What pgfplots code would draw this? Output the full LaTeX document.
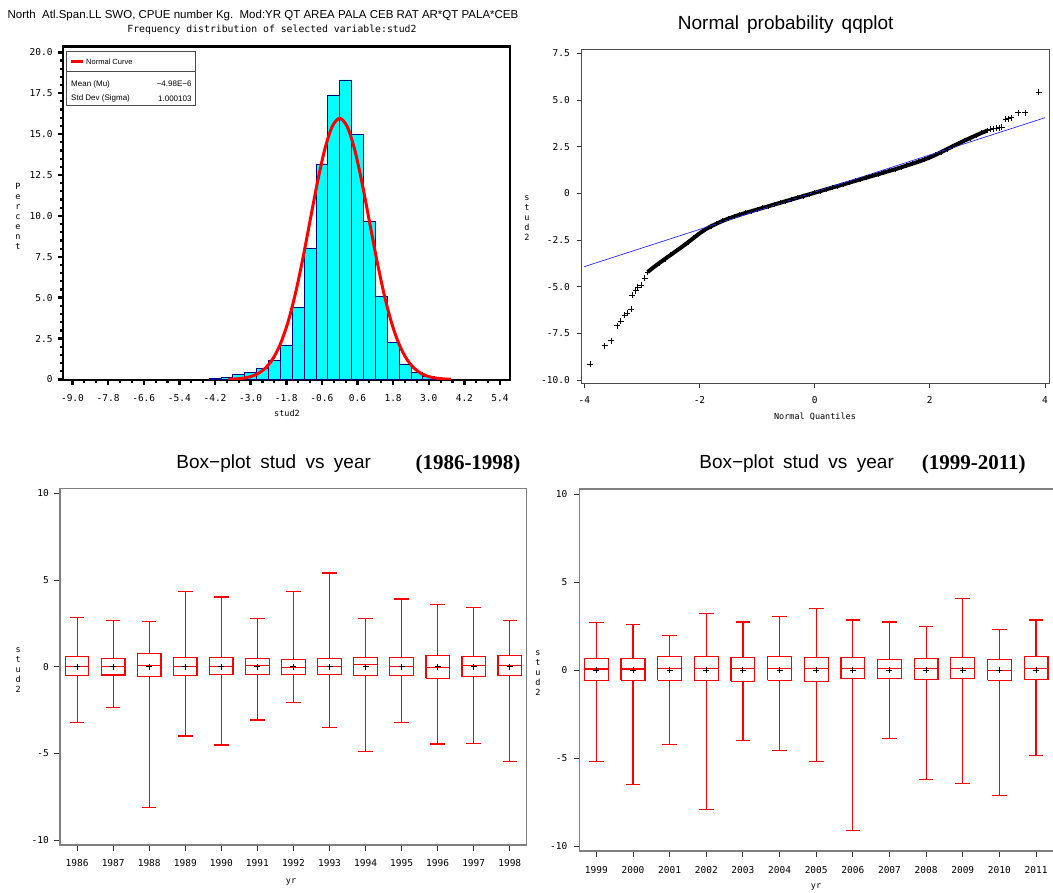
\documentclass[border=0pt]{standalone}
\usepackage{fontspec}
\setmainfont{Liberation Sans}
\newfontfamily\mono{DejaVu Sans Mono}
\newfontfamily\timesf{Liberation Serif}
\usepackage{pgfplots}
\pgfplotsset{compat=1.18}

\definecolor{sascyan}{RGB}{0,255,255}
\definecolor{sasnavy}{RGB}{0,0,128}
\definecolor{sasred}{RGB}{255,0,0}
\definecolor{sasblue}{RGB}{40,40,255}
\definecolor{framegray}{RGB}{128,128,128}

\newcommand\tickfont{\mono\fontsize{9.5}{10}\selectfont}
\newcommand\labfont{\mono\fontsize{8.5}{10}\selectfont}

% one box: #1 position, #2 median, #3 upper quartile, #4 lower quartile,
% #5 upper whisker, #6 lower whisker
\newcommand\boxyear[6]{%
  \addplot[sasred, line width=1.2pt, unbounded coords=jump,
    x filter/.expression={x+#1}] coordinates {
    (-0.325,#4)(0.325,#4)(0.325,#3)(-0.325,#3)(-0.325,#4)
    (0,nan)(-0.325,#2)(0.325,#2)
    (0,nan)(0,#3)(0,#5)
    (0,nan)(-0.2,#5)(0.2,#5)
    (0,nan)(0,#4)(0,#6)
    (0,nan)(-0.2,#6)(0.2,#6)};}

\pgfplotsset{
  boxaxis/.style={scale only axis, anchor=north west,
    tick pos=left, tick align=outside, major tick length=6pt,
    axis line style={framegray, line width=1.5pt},
    major tick style={black!80, line width=0.9pt},
    tick label style={font=\tickfont},
    xtick={0,1,...,12},
    ytick={-10,-5,0,5,10}, yticklabels={-10,-5,0,5,10},
    scaled ticks=false},
}

\begin{document}
\begin{tikzpicture}
\useasboundingbox (0pt,0pt) rectangle (1053pt,893pt);

% ---------- top left: histogram ----------
\node[font=\fontsize{11.5}{12}\selectfont] at (263pt,877.5pt)
  {North\ \ Atl.Span.LL SWO, CPUE number Kg.\ \ Mod:YR QT AREA PALA CEB RAT AR*QT PALA*CEB};
\node[font=\mono\fontsize{9.8}{10}\selectfont] at (272pt,863.7pt)
  {Frequency distribution of selected variable:stud2};

\begin{axis}[at={(63pt,846.3pt)}, anchor=north west, scale only axis,
  width=447pt, height=333.3pt,
  xmin=-9.32, xmax=5.737, ymin=-0.03, ymax=20.342,
  xtick={-9,-7.8,-6.6,-5.4,-4.2,-3,-1.8,-0.6,0.6,1.8,3,4.2,5.4},
  xticklabels={-9.0,-7.8,-6.6,-5.4,-4.2,-3.0,-1.8,-0.6,0.6,1.8,3.0,4.2,5.4},
  minor x tick num=2,
  ytick={0,2.5,5,7.5,10,12.5,15,17.5,20},
  yticklabels={0,2.5,5.0,7.5,10.0,12.5,15.0,17.5,20.0},
  minor y tick num=4,
  tick pos=left, tick align=outside,
  major tick length=5pt, minor tick length=3pt,
  major tick style={black, line width=2.5pt},
  minor tick style={black, line width=2.2pt},
  axis line style={black, line width=2.7pt},
  tick label style={font=\tickfont},
  yticklabel style={anchor=east, inner sep=0pt, xshift=-5.3pt},
  xticklabel style={anchor=center, inner sep=0pt, yshift=-13.3pt},
]
\addplot[ybar interval, fill=sascyan, draw=sasnavy, line width=0.8pt]
coordinates {
  (-4.4,0.05)(-4.0,0.13)(-3.6,0.31)(-3.2,0.42)(-2.8,0.68)(-2.4,1.19)
  (-2.0,2.11)(-1.6,4.41)(-1.2,8.02)(-0.8,13.17)(-0.4,17.39)(0.0,18.31)
  (0.4,14.99)(0.8,9.67)(1.2,5.10)(1.6,2.29)(2.0,0.95)(2.4,0.42)
  (2.8,0.20)(3.2,0.05)(3.6,0)
};
\addplot[sasred, line width=3pt, smooth] coordinates {
  (-3.75,0.014)(-3.5,0.035)(-3.25,0.081)(-3.0,0.177)(-2.75,0.364)
  (-2.5,0.701)(-2.25,1.270)(-2.0,2.160)(-1.75,3.451)(-1.5,5.181)
  (-1.25,7.306)(-1.0,9.679)(-0.75,12.045)(-0.5,14.083)(-0.25,15.467)
  (0,15.958)(0.25,15.467)(0.5,14.083)(0.75,12.045)(1.0,9.679)
  (1.25,7.306)(1.5,5.181)(1.75,3.451)(2.0,2.160)(2.25,1.270)
  (2.5,0.701)(2.75,0.364)(3.0,0.177)(3.25,0.081)(3.5,0.035)(3.75,0.014)
};
\end{axis}

% legend box of the histogram
\draw[black!70, line width=0.9pt, fill=white] (66.7pt,841.3pt) rectangle (195.7pt,787.3pt);
\draw[black!70, line width=0.9pt] (66.7pt,821.3pt) -- (195.7pt,821.3pt);
\draw[sasred, line width=2.5pt] (71pt,831.3pt) -- (83.3pt,831.3pt);
\node[anchor=west, inner sep=0pt, font=\fontsize{7.5}{8}\selectfont] at (86pt,831.3pt) {Normal Curve};
\node[anchor=west, inner sep=0pt, font=\fontsize{8}{9}\selectfont] at (71pt,809pt) {Mean (Mu)};
\node[anchor=east, inner sep=0pt, font=\fontsize{8}{9}\selectfont] at (191.7pt,809pt) {−4.98E−6};
\node[anchor=west, inner sep=0pt, font=\fontsize{8}{9}\selectfont] at (71pt,794.7pt) {Std Dev (Sigma)};
\node[anchor=east, inner sep=0pt, font=\fontsize{8}{9}\selectfont] at (191.7pt,794.7pt) {1.000103};

\node[align=center, inner sep=0pt, font=\labfont] at (18pt,677pt) {P\\e\\r\\c\\e\\n\\t};
\node[inner sep=0pt, font=\labfont] at (287pt,480pt) {stud2};

% ---------- top right: qq plot ----------
\node[font=\fontsize{19}{20}\selectfont] at (785.7pt,868pt)
  {Normal\hspace{8pt}probability\hspace{8pt}qqplot};

\begin{axis}[at={(581pt,843.7pt)}, anchor=north west, scale only axis,
  width=468pt, height=334pt,
  xmin=-4.057, xmax=4.069, ymin=-10.177, ymax=7.714,
  xtick={-4,-2,0,2,4}, xticklabels={-4,-2,0,2,4},
  ytick={-10,-7.5,-5,-2.5,0,2.5,5,7.5},
  yticklabels={-10.0,-7.5,-5.0,-2.5,0,2.5,5.0,7.5},
  tick pos=left, tick align=outside, major tick length=4.5pt,
  axis line style={black!70, line width=1pt},
  major tick style={black!80, line width=0.9pt},
  tick label style={font=\tickfont},
  yticklabel style={anchor=east, inner sep=0pt, xshift=-6.5pt},
  xticklabel style={anchor=center, inner sep=0pt, yshift=-12.2pt},
]
\addplot[black, line width=4pt, mark=+, mark size=2.5pt,
  mark options={line width=0.8pt}] coordinates {
  (-2.9,-4.22)(-2.8,-3.97)(-2.7,-3.74)(-2.6,-3.52)(-2.5,-3.30)(-2.4,-3.08)
  (-2.3,-2.86)(-2.2,-2.63)(-2.1,-2.39)(-2.0,-2.15)(-1.9,-1.94)(-1.8,-1.77)
  (-1.7,-1.62)(-1.6,-1.48)(-1.5,-1.36)(-1.4,-1.25)(-1.3,-1.15)(-1.2,-1.05)
  (-1.1,-0.96)(-1.0,-0.87)(-0.9,-0.78)(-0.8,-0.69)(-0.7,-0.60)(-0.6,-0.51)
  (-0.5,-0.42)(-0.4,-0.33)(-0.3,-0.24)(-0.2,-0.15)(-0.1,-0.06)(0.0,0.03)
  (0.1,0.12)(0.2,0.21)(0.3,0.30)(0.4,0.39)(0.5,0.48)(0.6,0.57)
  (0.7,0.66)(0.8,0.75)(0.9,0.84)(1.0,0.93)(1.1,1.02)(1.2,1.11)
  (1.3,1.20)(1.4,1.29)(1.5,1.39)(1.6,1.49)(1.7,1.59)(1.8,1.69)
  (1.9,1.80)(2.0,1.92)(2.1,2.06)(2.2,2.21)(2.3,2.37)(2.4,2.52)
  (2.5,2.67)(2.6,2.82)(2.7,2.96)(2.8,3.10)(2.9,3.24)(3.0,3.36)
};
\addplot[only marks, black, mark=+, mark size=3pt, mark options={line width=0.8pt}]
coordinates {
  (-3.895,-9.14)(-3.646,-8.16)(-3.53,-7.89)(-3.43,-7.09)(-3.37,-6.84)
  (-3.30,-6.52)(-3.26,-6.43)(-3.19,-6.20)(-3.17,-5.45)(-3.11,-5.21)
  (-3.07,-5.04)(-3.01,-4.91)(-2.95,-4.55)
  (3.05,3.42)(3.1,3.45)(3.15,3.48)(3.2,3.52)(3.25,3.55)
  (3.32,3.98)(3.36,4.00)(3.41,4.05)(3.53,4.32)(3.66,4.32)(3.89,5.41)
};
\addplot[sasblue, line width=0.7pt] coordinates {(-4,-3.93)(4,4.05)};
\end{axis}

\node[align=center, inner sep=0pt, font=\labfont] at (527pt,675pt) {s\\t\\u\\d\\2};
\node[inner sep=0pt, font=\labfont] at (815pt,476.3pt) {Normal Quantiles};

% ---------- bottom left: box-plots 1986-1998 ----------
\node[font=\fontsize{19}{20}\selectfont] at (273.7pt,429pt)
  {Box−plot\hspace{9.4pt}stud\hspace{9.4pt}vs\hspace{9.4pt}year};
\node[font=\timesf\bfseries\fontsize{21}{22}\selectfont] at (468pt,429pt) {(1986-1998)};

\begin{axis}[boxaxis, at={(60.2pt,404.7pt)}, width=466.5pt, height=356.7pt,
  xmin=-0.47, xmax=12.47, ymin=-10.288, ymax=10.288,
  xticklabels={1986,1987,1988,1989,1990,1991,1992,1993,1994,1995,1996,1997,1998},
  yticklabel style={anchor=east, inner sep=0pt, xshift=-5.2pt},
  xticklabel style={anchor=center, inner sep=0pt, yshift=-11.7pt},
]
\boxyear{0}{0}{0.58}{-0.52}{2.83}{-3.21}
\boxyear{1}{0}{0.48}{-0.48}{2.67}{-2.35}
\boxyear{2}{0.06}{0.77}{-0.58}{2.62}{-8.12}
\boxyear{3}{0}{0.54}{-0.52}{4.33}{-4.00}
\boxyear{4}{0}{0.54}{-0.46}{4.02}{-4.52}
\boxyear{5}{0.06}{0.48}{-0.46}{2.77}{-3.08}
\boxyear{6}{-0.04}{0.42}{-0.46}{4.33}{-2.08}
\boxyear{7}{0}{0.48}{-0.46}{5.40}{-3.50}
\boxyear{8}{0.12}{0.54}{-0.52}{2.77}{-4.90}
\boxyear{9}{0}{0.54}{-0.52}{3.90}{-3.21}
\boxyear{10}{-0.06}{0.63}{-0.67}{3.60}{-4.46}
\boxyear{11}{0.06}{0.58}{-0.58}{3.40}{-4.42}
\boxyear{12}{0.06}{0.63}{-0.52}{2.67}{-5.48}
\addplot[only marks, black, mark=+, mark size=3pt, mark options={black, line width=1pt}]
coordinates {(0,0)(1,0)(2,0)(3,0)(4,0)(5,0)(6,0)(7,0)(8,0)(9,0)(10,0)(11,0)(12,0)};
\end{axis}

\node[align=center, inner sep=0pt, font=\labfont] at (18.3pt,223pt) {s\\t\\u\\d\\2};
\node[inner sep=0pt, font=\labfont] at (291pt,11.3pt) {yr};

% ---------- bottom right: box-plots 1999-2011 ----------
\node[font=\fontsize{19}{20}\selectfont] at (796.6pt,429pt)
  {Box−plot\hspace{9.4pt}stud\hspace{9.4pt}vs\hspace{9.4pt}year};
\node[font=\timesf\bfseries\fontsize{21}{22}\selectfont] at (973.7pt,429pt) {(1999-2011)};

\begin{axis}[boxaxis, at={(579.5pt,404pt)}, width=480pt, height=362pt,
  xmin=-0.46, xmax=12.64, ymin=-10.284, ymax=10.30,
  xticklabels={1999,2000,2001,2002,2003,2004,2005,2006,2007,2008,2009,2010,2011},
  yticklabel style={anchor=east, inner sep=0pt, xshift=-6pt},
  xticklabel style={anchor=center, inner sep=0pt, yshift=-13pt},
]
\boxyear{0}{0.06}{0.67}{-0.57}{2.70}{-5.19}
\boxyear{1}{0.06}{0.67}{-0.57}{2.59}{-6.52}
\boxyear{2}{0.11}{0.76}{-0.57}{1.98}{-4.22}
\boxyear{3}{0.11}{0.76}{-0.57}{3.23}{-7.93}
\boxyear{4}{0.11}{0.70}{-0.63}{2.74}{-4.01}
\boxyear{5}{0.11}{0.76}{-0.57}{3.06}{-4.56}
\boxyear{6}{0.11}{0.70}{-0.63}{3.50}{-5.19}
\boxyear{7}{0.11}{0.70}{-0.48}{2.85}{-9.13}
\boxyear{8}{0.11}{0.59}{-0.48}{2.74}{-3.90}
\boxyear{9}{0.11}{0.65}{-0.53}{2.47}{-6.22}
\boxyear{10}{0.11}{0.70}{-0.48}{4.07}{-6.46}
\boxyear{11}{0}{0.59}{-0.57}{2.32}{-7.11}
\boxyear{12}{0.11}{0.76}{-0.53}{2.85}{-4.87}
\addplot[only marks, black, mark=+, mark size=3pt, mark options={black, line width=1pt}]
coordinates {(0,0)(1,0)(2,0)(3,0)(4,0)(5,0)(6,0)(7,0)(8,0)(9,0)(10,0)(11,0)(12,0)};
\end{axis}

\node[align=center, inner sep=0pt, font=\labfont] at (538pt,220pt) {s\\t\\u\\d\\2};
\node[inner sep=0pt, font=\labfont] at (816pt,6pt) {yr};
\end{tikzpicture}
\end{document}
